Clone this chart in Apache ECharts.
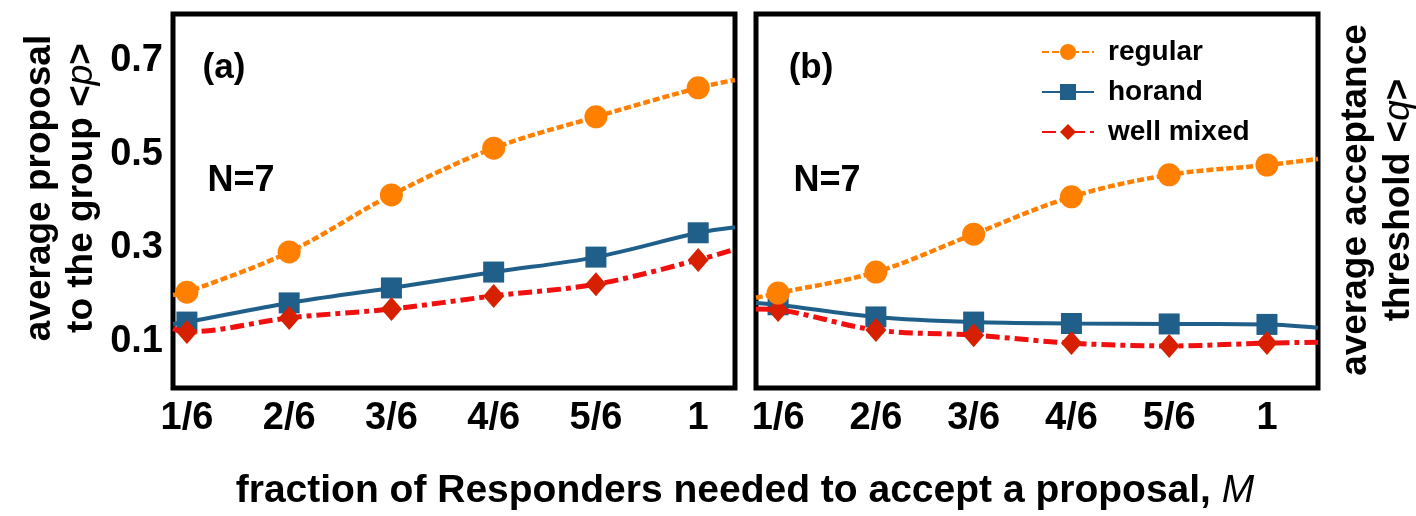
<!DOCTYPE html>
<html lang="en">
<head>
    <meta charset="UTF-8">
    <title>ultimatum game N=7</title>
    <script src="https://cdn.jsdelivr.net/npm/echarts@6.0.0/dist/echarts.min.js"></script>
    <style>
        html, body { margin: 0; padding: 0; background: #fff; }
        #chart { width: 1416px; height: 516px; }
    </style>
</head>
<body>
<div id="chart"></div>
<script>
    // fraction of responders M (x positions of the markers)
    var fracs = [1/6, 2/6, 3/6, 4/6, 5/6, 1];
    var fracLabels = ['1/6', '2/6', '3/6', '4/6', '5/6', '1'];
    var yTicks = [0.1, 0.3, 0.5, 0.7];

    // (a) average proposal <p>
    var pRegular   = [0.205, 0.291, 0.413, 0.513, 0.580, 0.642];
    var pHorand    = [0.141, 0.182, 0.214, 0.248, 0.280, 0.332];
    var pWellMixed = [0.120, 0.150, 0.169, 0.197, 0.222, 0.274];
    // fitted curves where they meet the frame (left, right)
    var pRegularEnds   = [0.199, 0.659];
    var pHorandEnds    = [0.137, 0.344];
    var pWellMixedEnds = [0.127, 0.297];

    // (b) average acceptance threshold <q>
    var qRegular   = [0.203, 0.248, 0.329, 0.409, 0.456, 0.477];
    var qHorand    = [0.178, 0.152, 0.141, 0.138, 0.137, 0.136];
    var qWellMixed = [0.167, 0.124, 0.113, 0.096, 0.090, 0.096];
    var qRegularEnds   = [0.193, 0.490];
    var qHorandEnds    = [0.182, 0.129];
    var qWellMixedEnds = [0.169, 0.098];

    var xRangeA = [0.144, 1.060];
    var xRangeB = [0.129, 1.087];

    var FONT = 'Liberation Sans, Arial, sans-serif';
    var ORANGE = '#ff8000', BLUE = '#1f5f8a', RED = '#f01010', RED_MK = '#d62000';

    function curve(vals, ends, range) {
        var d = [{value: [range[0], ends[0]], symbol: 'none'}];
        for (var i = 0; i < fracs.length; i++) d.push([fracs[i], vals[i]]);
        d.push({value: [range[1], ends[1]], symbol: 'none'});
        return d;
    }

    var styles = {
        'regular':    {symbol: 'circle',  size: 23, color: ORANGE, line: {color: ORANGE, width: 4.5, type: [7, 3]}, z: 4},
        'horand':     {symbol: 'rect',    size: 21, color: BLUE,   line: {color: BLUE, width: 4, type: 'solid'}, z: 2},
        'well mixed': {symbol: 'diamond', size: [21, 24], color: RED_MK, line: {color: RED, width: 5, type: [14, 5, 5, 5]}, z: 3}
    };

    function mk(name, idx, data) {
        var s = styles[name];
        return {
            name: name, type: 'line', xAxisIndex: idx, yAxisIndex: idx,
            data: data, smooth: 0.35, z: s.z,
            symbol: s.symbol, symbolSize: s.size, showSymbol: true,
            itemStyle: {color: s.color},
            lineStyle: s.line,
            emphasis: {disabled: true},
            animation: false
        };
    }

    var axisText = {fontSize: 38, fontWeight: 'bold', color: '#000', fontFamily: FONT};

    function xAx(idx, range) {
        return {
            type: 'value', gridIndex: idx, min: range[0], max: range[1],
            axisLine: {show: false}, axisTick: {show: false}, splitLine: {show: false},
            axisLabel: Object.assign({
                margin: 12, customValues: fracs,
                formatter: function (v) {
                    for (var i = 0; i < fracs.length; i++) if (Math.abs(v - fracs[i]) < 1e-6) return fracLabels[i];
                    return '';
                }
            }, axisText)
        };
    }
    function yAx(idx, showLabels) {
        return {
            type: 'value', gridIndex: idx, min: 0, max: 0.8,
            axisLine: {show: false}, axisTick: {show: false}, splitLine: {show: false},
            axisLabel: Object.assign({show: showLabels, margin: 10, customValues: yTicks,
                formatter: function (v) { return v.toFixed(1); }}, axisText)
        };
    }

    var chart = echarts.init(document.getElementById('chart'));
    var gridBase = {top: 14, height: 374, width: 562, show: true, borderColor: '#000', borderWidth: 5, backgroundColor: 'transparent'};

    var rich = {
        n: {fontSize: 37, fontWeight: 'bold', fontFamily: FONT, color: '#000'},
        i: {fontSize: 37, fontStyle: 'italic', fontFamily: FONT, color: '#000'}
    };
    var richX = {
        n: {fontSize: 39, fontWeight: 'bold', fontFamily: FONT, color: '#000'},
        i: {fontSize: 39, fontStyle: 'italic', fontFamily: FONT, color: '#000'}
    };

    function label(x, y, txt, size) {
        return {type: 'text', x: x, y: y, silent: true,
            style: {text: txt, fontSize: size, fontWeight: 'bold', fontFamily: FONT, fill: '#000', align: 'center', verticalAlign: 'middle'}};
    }

    chart.setOption({
        animation: false,
        grid: [
            Object.assign({left: 173}, gridBase),
            Object.assign({left: 756}, gridBase)
        ],
        xAxis: [xAx(0, xRangeA), xAx(1, xRangeB)],
        yAxis: [yAx(0, true), yAx(1, false)],
        legend: {
            orient: 'vertical', left: 1036, top: 33,
            itemWidth: 52, itemHeight: 20, itemGap: 12,
            data: ['regular', 'horand', 'well mixed'],
            textStyle: {fontSize: 28, fontWeight: 'bold', color: '#000', fontFamily: FONT, padding: [0, 0, 0, 9]},
            selectedMode: false
        },
        series: [
            mk('horand', 0, curve(pHorand, pHorandEnds, xRangeA)),
            mk('well mixed', 0, curve(pWellMixed, pWellMixedEnds, xRangeA)),
            mk('regular', 0, curve(pRegular, pRegularEnds, xRangeA)),
            mk('horand', 1, curve(qHorand, qHorandEnds, xRangeB)),
            mk('well mixed', 1, curve(qWellMixed, qWellMixedEnds, xRangeB)),
            mk('regular', 1, curve(qRegular, qRegularEnds, xRangeB))
        ],
        graphic: [
            label(224, 68, '(a)', 35),
            label(811, 68, '(b)', 35),
            label(241, 181, 'N=7', 36),
            label(827, 181, 'N=7', 36),
            {type: 'text', x: 61, y: 188, rotation: Math.PI / 2, silent: true,
                style: {text: '{n|average proposal}\n{n|to the group <}{i|p}{n|>}', rich: rich,
                    lineHeight: 42, align: 'center', verticalAlign: 'middle'}},
            {type: 'text', x: 1377, y: 200, rotation: Math.PI / 2, silent: true,
                style: {text: '{n|average acceptance}\n{n|threshold <}{i|q}{n|>}', rich: rich,
                    lineHeight: 43, align: 'center', verticalAlign: 'middle'}},
            {type: 'text', x: 745, y: 491, silent: true,
                style: {text: '{n|fraction of Responders needed to accept a proposal, }{i|M}', rich: richX,
                    align: 'center', verticalAlign: 'middle'}}
        ]
    });
</script>
</body>
</html>
